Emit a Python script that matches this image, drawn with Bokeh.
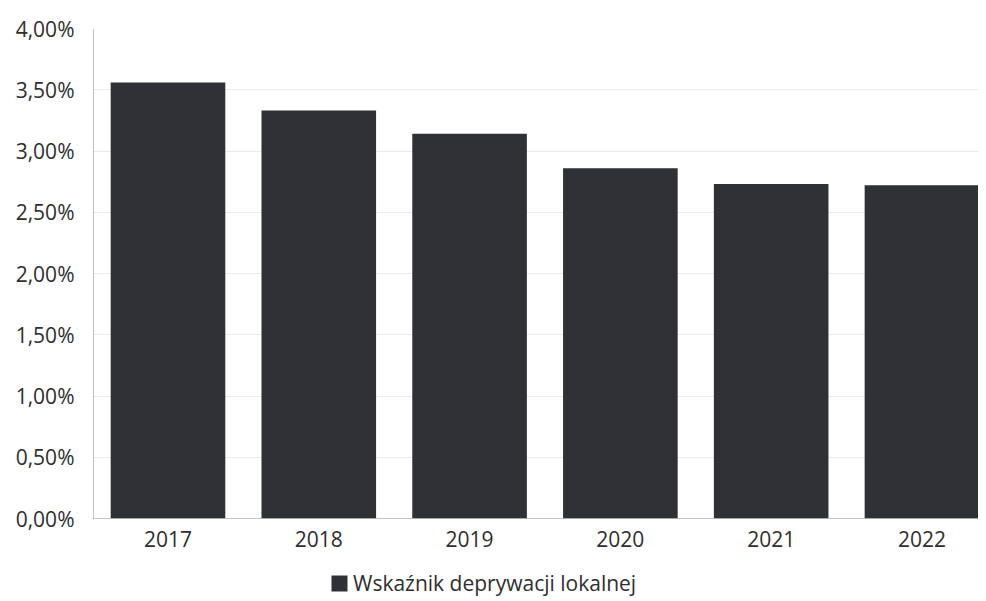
from bokeh.plotting import figure
from bokeh.layouts import column
from bokeh.models import (ColumnDataSource, FixedTicker, CustomJSTickFormatter,
                          Legend, LegendItem, Range1d)
from bokeh.embed import file_html
from bokeh.resources import INLINE

years = ["2017", "2018", "2019", "2020", "2021", "2022"]
values = [3.56, 3.33, 3.14, 2.86, 2.73, 2.72]
series_name = "Wskaźnik deprywacji lokalnej"
y_ticks = [0, 0.5, 1.0, 1.5, 2.0, 2.5, 3.0, 3.5, 4.0]

FONT = "Open Sans"
BAR = "#303136"
TXT = "#2e2e2e"

src = ColumnDataSource(dict(x=list(range(len(years))), top=values, year=years))

p = figure(width=978, height=560, output_backend="svg", toolbar_location=None,
           x_range=Range1d(-0.494, 5.375), y_range=Range1d(0, 4.0),
           min_border_left=93, min_border_right=0, min_border_top=28,
           min_border_bottom=42)
p.outline_line_color = None
p.background_fill_color = "white"
p.border_fill_color = "white"

r = p.vbar(x="x", top="top", width=0.76, source=src, fill_color=BAR,
           line_color=None)

# y axis
p.yaxis.ticker = FixedTicker(ticks=y_ticks)
p.yaxis.formatter = CustomJSTickFormatter(
    code="return tick.toFixed(2).replace('.', ',') + '%';")
p.yaxis.axis_line_color = "#888888"
p.yaxis.axis_line_dash = "1 1"
p.yaxis.major_tick_line_color = None
p.yaxis.major_tick_out = 0
p.yaxis.major_tick_in = 0
p.yaxis.minor_tick_line_color = None
p.yaxis.major_label_text_font = FONT
p.yaxis.major_label_text_font_size = "21px"
p.yaxis.major_label_text_color = TXT
p.yaxis.major_label_standoff = 19

# x axis
p.xaxis.ticker = FixedTicker(ticks=list(range(len(years))))
p.xaxis.major_label_overrides = {i: y for i, y in enumerate(years)}
p.xaxis.axis_line_color = "#888888"
p.xaxis.axis_line_dash = "1 1"
p.xaxis.major_tick_line_color = None
p.xaxis.major_tick_out = 0
p.xaxis.major_tick_in = 0
p.xaxis.minor_tick_line_color = None
p.xaxis.major_label_text_font = FONT
p.xaxis.major_label_text_font_size = "21px"
p.xaxis.major_label_text_color = TXT
p.xaxis.major_label_standoff = 12

p.xgrid.grid_line_color = None
p.ygrid.grid_line_color = "#d4d4d4"
p.ygrid.grid_line_dash = "1 1"

# legend strip below the chart (bars here lie outside the visible range)
lf = figure(width=978, height=38, output_backend="svg", toolbar_location=None,
            x_range=Range1d(-0.494, 5.375), y_range=Range1d(10, 11),
            min_border=0, x_axis_location=None, y_axis_location=None)
lf.outline_line_color = None
lf.grid.visible = False
lr = lf.vbar(x="x", top="top", width=0.76, source=src, fill_color=BAR,
             line_color=None)
legend = Legend(items=[LegendItem(label=series_name, renderers=[lr])],
                location=(236, 1), orientation="horizontal",
                label_text_font=FONT, label_text_font_size="21px",
                label_text_color=TXT,
                glyph_width=20, glyph_height=20, label_standoff=4,
                padding=0, margin=0, border_line_color=None,
                background_fill_alpha=0)
lf.add_layout(legend, "center")

layout = column(p, lf, spacing=0)
open("out.html", "w").write(file_html(layout, INLINE))
